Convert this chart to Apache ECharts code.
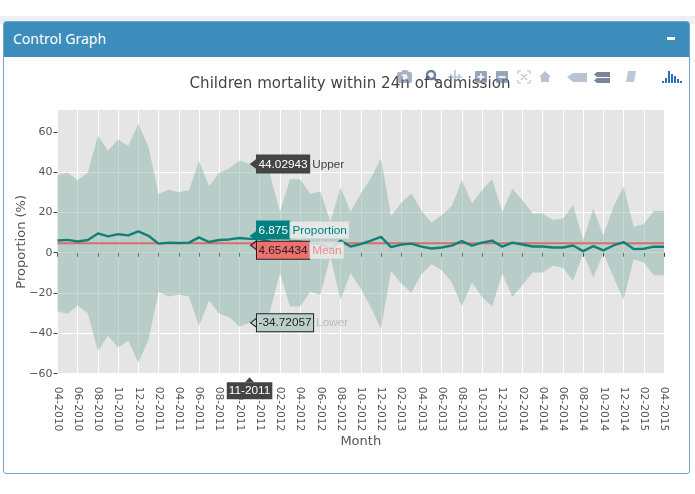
<!DOCTYPE html>
<html><head><meta charset="utf-8">
<script src="https://cdn.jsdelivr.net/npm/echarts@6/dist/echarts.min.js"></script>
<style>
html,body{margin:0;padding:0;background:#fff;width:695px;height:494px;overflow:hidden}
#strip{position:absolute;left:0;top:16px;width:695px;height:8px;background:#ecf0f5}
#panel{position:absolute;left:3px;top:21px;width:685px;height:451px;border:1px solid #6ea5cb;border-radius:3px;background:#fff}
#head{position:absolute;left:4px;top:22px;width:685px;height:35px;background:#3c8dbc;border-radius:2px 2px 0 0;color:#fff;font:14px "Noto Sans",sans-serif;line-height:33px;text-indent:9px}
#minus{position:absolute;left:667px;top:37px;width:8px;height:3px;background:#fff}
#chart{position:absolute;left:0;top:0;width:695px;height:494px}
#mode{position:absolute;left:0;top:0;pointer-events:none}
</style></head><body>
<div id="strip"></div><div id="panel"></div>
<div id="head">Control Graph</div><div id="minus"></div>
<div id="chart"></div>
<svg id="mode" width="695" height="494">
 <g fill="#6d7f9c" opacity=".6">
  <rect x="397" y="72" width="15" height="11" rx="2"/><circle cx="404.500" cy="77" r="3" fill="#e8ebf0"/>
  <path d="M401 72l2-2h4l2 2z"/>
 </g>
 <g fill="none" stroke="#55657f" stroke-width="2.400" opacity=".85"><circle cx="431" cy="75" r="4"/><path d="M434 78l4 4"/></g>
 <g stroke="#8a9bb5" stroke-width="1.600" opacity=".6" fill="none"><path d="M455 70v14M451 74v6M459 74v6M448 77h14"/></g>
 <g opacity=".7"><rect x="475" y="71" width="12" height="12" rx="1" fill="#6d7f9c"/><path d="M481 73.500v7M477.500 77h7" stroke="#fff" stroke-width="1.600"/>
 <rect x="496" y="71" width="12" height="12" rx="1" fill="#6d7f9c"/><path d="M498.500 77h7" stroke="#fff" stroke-width="1.600"/></g>
 <g stroke="#8a9bb5" stroke-width="1.200" fill="none" opacity=".6"><path d="M518 74v-3h3M527 71h3v3M530 80v3h-3M521 83h-3v-3M521 74l6 6M527 74l-6 6"/></g>
 <path d="M539 77l6-6 6 6h-2v5h-8v-5z" fill="#8a9bb5" opacity=".6"/>
 <path d="M567 77l6-4h14v9h-14z" fill="#8a9bb5" opacity=".6"/>
 <path d="M597 72h13v5h-13l-3-2.500zM597 78h13v5h-13l-3-2.500z" fill="#55657f" opacity=".8"/>
 <path d="M628 71h8l-2 11h-8z" fill="#8a9bb5" opacity=".55"/>
 <g fill="#2f6fb8"><rect x="662" y="81" width="2" height="2"/><rect x="665" y="78" width="2" height="5"/><rect x="668" y="71" width="2" height="12"/><rect x="671" y="74" width="2" height="9"/><rect x="674" y="76" width="2" height="7"/><rect x="677" y="79" width="2" height="4"/><rect x="680" y="81" width="2" height="2"/></g>
</svg>
<script>
const months = ["04-2010","05-2010","06-2010","07-2010","08-2010","09-2010","10-2010","11-2010","12-2010","01-2011","02-2011","03-2011","04-2011","05-2011","06-2011","07-2011","08-2011","09-2011","10-2011","11-2011","12-2011","01-2012","02-2012","03-2012","04-2012","05-2012","06-2012","07-2012","08-2012","09-2012","10-2012","11-2012","12-2012","01-2013","02-2013","03-2013","04-2013","05-2013","06-2013","07-2013","08-2013","09-2013","10-2013","11-2013","12-2013","01-2014","02-2014","03-2014","04-2014","05-2014","06-2014","07-2014","08-2014","09-2014","10-2014","11-2014","12-2014","01-2015","02-2015","03-2015","04-2015"];
const upper = [38.5,39.8,35.9,39.8,58,50.6,56.2,53,63.8,52.5,29,31.4,30,31,45.5,33,39.7,41.8,45.8,44.02943,42,39.3,20.3,36.4,36.4,29.3,30.4,15.4,32.4,20.3,29.4,37,46.8,18.2,24.8,29.4,21,15,18.7,23,36,24.5,31,36.4,20.3,31.7,26,19.5,19.5,16.2,17,23.6,6.3,21.8,8.8,22.8,32.7,12.9,14.2,20.8,20.7];
const lower = [-29,-30.3,-26.2,-30,-48.7,-41.2,-47,-43.7,-54.5,-43.3,-19.5,-21.7,-20.7,-21.7,-36.2,-23.7,-30.3,-32,-36.7,-34.72057,-33,-29.5,-10,-26.7,-26.7,-19.5,-20.8,-2,-23.3,-10,-17.8,-27,-37.8,-9,-15.3,-19.8,-10.7,-5.7,-8.7,-14.5,-26.5,-14.8,-22,-26.7,-10.3,-22,-16,-9.8,-9.8,-6.5,-7.5,-14,-0.3,-12.3,-0.2,-12,-23.3,-3.2,-4.8,-11.2,-11.2];
const proportion = [6.1,6.4,5.6,6.3,9.6,8.1,9.2,8.6,10.6,8.4,4.5,5,4.8,5,7.6,5.3,6.3,6.6,7.3,6.875,6.9,5.5,3,5.5,5.5,4.5,4.5,2,6,3.1,4.3,6,7.9,2.8,4,4.5,3,2.1,2.6,3.5,5.8,3.5,5,6,3,5,4.1,3.1,3.1,2.6,2.6,3.6,0.8,3.3,1.2,3.6,5.3,1.8,2,3,3];
const meanValue = 4.654434;
const yTicks = [-60,-40,-20,0,20,40,60];
const hoverIndex = 19;

const labelFont = '"Liberation Sans",Arial,sans-serif';
const axisFont = '"DejaVu Sans",sans-serif';
const hoverMonth = months[hoverIndex];

function pin(value, fill, border, symY, labelY, text, rich){
  return {
    coord:[hoverMonth, value], symbol:'triangle', symbolRotate:90, symbolSize:[9,6],
    symbolOffset:[4,symY], itemStyle:{color:fill,borderColor:border,borderWidth:1},
    label:{show:true,position:'right',distance:0,offset:[0,labelY],formatter:text,rich:rich}
  };
}
const seg = (bg,fg,bd)=>({backgroundColor:bg,color:fg,borderColor:bd,borderWidth:1,padding:[3,1.500,2,1.500],fontSize:11.800,fontFamily:labelFont});
const nm = (fg,bg)=>({color:fg,backgroundColor:bg,padding:[3,2,2,3],fontSize:11.800,fontFamily:labelFont});

const option = {
  animation:false,
  backgroundColor:'transparent',
  title:{text:'Children mortality within 24h of admission',left:345,top:72,textAlign:'center',
    textStyle:{fontFamily:axisFont,fontSize:15.100,fontWeight:'normal',color:'#444'}},
  grid:{left:57.500,right:31,top:110,height:263.700,show:true,backgroundColor:'#e5e5e5',borderWidth:0,outerBoundsMode:'none'},
  xAxis:{type:'category',data:months,boundaryGap:false,name:'Month',nameLocation:'middle',nameGap:61,nameMoveOverlap:false,
    nameTextStyle:{fontFamily:axisFont,fontSize:13,color:'#555'},
    axisLine:{show:false},
    axisTick:{show:true,interval:1,length:4,alignWithLabel:true,lineStyle:{color:'#444'}},
    axisLabel:{interval:1,rotate:-90,margin:13,fontFamily:axisFont,fontSize:10.700,color:'#555'},
    splitLine:{show:true,interval:1,lineStyle:{color:'#fff',width:1}}},
  yAxis:{type:'value',min:-60,max:70.800,interval:20,name:'Proportion (%)',nameLocation:'middle',nameGap:29,nameMoveOverlap:false,
    nameTextStyle:{fontFamily:axisFont,fontSize:13,color:'#555'},
    axisLine:{show:false},
    axisTick:{show:true,length:4,customValues:yTicks,lineStyle:{color:'#444'}},
    axisLabel:{margin:5,customValues:yTicks,fontFamily:axisFont,fontSize:11,color:'#555',
      formatter:v=>String(v).replace('-','\u2212')},
    splitLine:{show:true,showMaxLine:false,lineStyle:{color:'#fff',width:1}}},
  series:[
    {name:'LowerBase',type:'line',data:lower,stack:'band',stackStrategy:'all',symbol:'none',lineStyle:{width:0},areaStyle:{opacity:0},z:2},
    {name:'Band',type:'line',data:upper.map((u,i)=>u-lower[i]),stack:'band',stackStrategy:'all',symbol:'none',lineStyle:{width:0},
      areaStyle:{color:'rgba(141,181,171,0.5)',opacity:1},z:2},
    {name:'Mean',type:'line',data:months.map(()=>meanValue),symbol:'none',lineStyle:{color:'#d66e69',width:2},z:3},
    {name:'Proportion',type:'line',data:proportion,symbol:'none',lineStyle:{color:'#12807a',width:2.400},z:4,
      markPoint:{silent:true,animation:false,z:20,data:[
        pin(upper[hoverIndex],'#444','#444',0,0,`{v|${upper[hoverIndex]}}{n|Upper}`,{v:seg('#444','#fff','#444'),n:nm('#444','transparent')}),
        pin(lower[hoverIndex],'#bccfca','#222',0,0,`{v|${lower[hoverIndex]}}{n|Lower}`,{v:seg('#bccfca','#222','#222'),n:nm('#bbb','transparent')}),
        pin(proportion[hoverIndex],'#008080','#008080',-3,-6,`{v|${proportion[hoverIndex]}}{n|Proportion}`,{v:seg('#008080','#fff','#008080'),n:nm('#008080','rgba(235,235,235,.85)')}),
        pin(meanValue,'#f07070','#222',2,5,`{v|${meanValue}}{n|Mean}`,{v:seg('#f07070','#222','#222'),n:nm('#f08a8a','rgba(235,235,235,.85)')}),
        {coord:[hoverMonth,-60],symbol:'triangle',symbolSize:[9,5],symbolOffset:[0,6],itemStyle:{color:'#444'},
          label:{show:true,position:'bottom',distance:0,formatter:hoverMonth,color:'#fff',backgroundColor:'#444',padding:[3,2,2,2],fontSize:11.800,fontFamily:labelFont}}
      ]}}
  ]
};
const chart = echarts.init(document.getElementById('chart'),null,{renderer:'canvas',width:695,height:494});
chart.setOption(option);
</script>
</body></html>
